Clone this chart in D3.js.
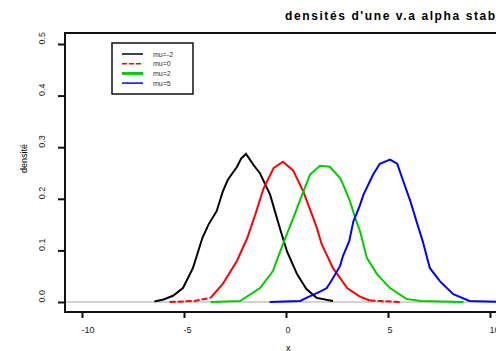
<!DOCTYPE html>
<html>
<head>
<meta charset="utf-8">
<script src="https://cdn.jsdelivr.net/npm/d3@7"></script>
<style>
  body { margin: 0; background: #fff; }
  svg { display: block; font-family: "Liberation Sans", Arial, sans-serif; }
</style>
</head>
<body>
<div id="chart"></div>
<script>
let width = 496,
    height = 351;

// values
const xTicks = [-10, -5, 0, 5, 10];
const yTicks = [0.0, 0.1, 0.2, 0.3, 0.4, 0.5];
const legendLabels = ["mu=-2", "mu=0", "mu=2", "mu=5"];

const blackX = [-6.45, -6.0, -5.54, -5.05, -4.56, -4.1, -3.8, -3.4, -3.1, -2.85, -2.4, -2.2, -1.96, -1.6, -1.27, -0.78, -0.3, 0.05, 0.54, 1.0, 1.5, 2.3];
const blackY = [0.001, 0.005, 0.012, 0.027, 0.066, 0.124, 0.15, 0.176, 0.214, 0.237, 0.262, 0.278, 0.287, 0.266, 0.249, 0.208, 0.143, 0.098, 0.054, 0.025, 0.008, 0.002];

const redX = [-5.7, -4.5, -3.7, -3.1, -2.4, -1.9, -1.5, -1.1, -0.6, -0.15, 0.35, 0.85, 1.27, 1.5, 1.75, 2.3, 3.0, 3.6, 4.1, 5.6];
const redY = [0.0, 0.002, 0.008, 0.035, 0.08, 0.124, 0.17, 0.22, 0.26, 0.272, 0.255, 0.214, 0.17, 0.145, 0.112, 0.066, 0.027, 0.011, 0.003, 0.0];

const greenX = [-3.7, -2.25, -1.27, -0.64, -0.15, 0.35, 0.85, 1.18, 1.67, 2.15, 2.65, 2.8, 3.14, 3.4, 3.63, 3.97, 4.46, 5.1, 5.9, 6.6, 8.7];
const greenY = [0.0, 0.002, 0.027, 0.06, 0.112, 0.162, 0.214, 0.247, 0.264, 0.262, 0.24, 0.228, 0.195, 0.162, 0.137, 0.085, 0.054, 0.027, 0.006, 0.002, 0.0];

const blueX = [-0.8, 0.7, 1.0, 1.67, 2.0, 2.3, 2.65, 2.8, 3.1, 3.3, 3.6, 3.8, 4.27, 4.6, 5.1, 5.45, 5.75, 6.1, 6.4, 6.7, 7.05, 7.55, 8.2, 9.0, 10.6];
const blueY = [0.0, 0.002, 0.008, 0.02, 0.027, 0.046, 0.07, 0.09, 0.118, 0.156, 0.185, 0.208, 0.247, 0.268, 0.276, 0.268, 0.234, 0.195, 0.156, 0.118, 0.066, 0.04, 0.015, 0.002, 0.0];

const series = [
  { xs: blackX, ys: blackY, color: "black" },
  { xs: redX, ys: redY, color: "red" },
  { xs: greenX, ys: greenY, color: "#00cc00" },
  { xs: blueX, ys: blueY, color: "blue" }
];

const svg = d3.select("#chart")
  .append("svg")
  .attr("width", width)
  .attr("height", height);

let x = d3.scaleLinear()
  .domain([-10, 10])
  .range([82, 490]);

let y = d3.scaleLinear()
  .domain([0, 0.5])
  .range([302, 44]);

const boxLeft = 65, boxTop = 33, boxBottom = 312, boxRight = 510;

// zero line in gray
svg.append("line")
  .attr("x1", boxLeft).attr("x2", boxRight)
  .attr("y1", y(0)).attr("y2", y(0))
  .attr("stroke", "#c4c4c4")
  .attr("stroke-width", 1.5);

let line = d3.line()
  .x(d => x(d[0]))
  .y(d => y(d[1]));

series.forEach((s, i) => {
  let pts = s.xs.map((v, j) => [v, s.ys[j]]);
  if (i == 1) {
    // red is dashed, only visible on the flat tails
    let inner = pts.filter(d => d[0] >= -3.7 && d[0] <= 4.1);
    svg.append("path").datum(pts.filter(d => d[0] <= -3.7))
      .attr("fill", "none").attr("stroke", s.color).attr("stroke-width", 2)
      .attr("stroke-dasharray", "6,2").attr("d", line);
    svg.append("path").datum(pts.filter(d => d[0] >= 4.1))
      .attr("fill", "none").attr("stroke", s.color).attr("stroke-width", 2)
      .attr("stroke-dasharray", "6,2").attr("d", line);
    svg.append("path").datum(inner)
      .attr("fill", "none").attr("stroke", s.color).attr("stroke-width", 2)
      .attr("d", line);
  } else {
    svg.append("path").datum(pts)
      .attr("fill", "none").attr("stroke", s.color).attr("stroke-width", 2)
      .attr("d", line);
  }
});

// box
svg.append("path")
  .attr("fill", "none")
  .attr("stroke", "#111")
  .attr("stroke-width", 2)
  .attr("d", `M${boxRight},${boxTop}H${boxLeft}V${boxBottom}H${boxRight}`);

// y axis
svg.append("g")
  .attr("transform", `translate(${boxLeft},0)`)
  .call(d3.axisLeft(y)
    .tickValues(yTicks)
    .tickSize(7)
    .tickSizeOuter(0)
    .tickFormat(d3.format(".1f")))
  .call(g => g.select(".domain").remove())
  .call(g => g.selectAll(".tick line").attr("stroke", "#111").attr("stroke-width", 2))
  .call(g => g.selectAll(".tick text")
    .attr("x", null).attr("dy", null)
    .attr("transform", "translate(-20,0) rotate(-90)")
    .attr("text-anchor", "start")
    .attr("font-size", 9)
    .attr("font-family", "Liberation Sans, Arial, sans-serif")
    .attr("fill", "#222"));

// x axis
svg.append("g")
  .attr("transform", `translate(0,${boxBottom})`)
  .call(d3.axisBottom(x)
    .tickValues(xTicks)
    .tickSize(6)
    .tickSizeOuter(0)
    .tickFormat(d => d))
  .call(g => g.select(".domain").remove())
  .call(g => g.selectAll(".tick line").attr("stroke", "#111").attr("stroke-width", 2))
  .call(g => g.selectAll(".tick text")
    .attr("y", 21).attr("dy", null)
    .attr("x", -1)
    .attr("text-anchor", "start")
    .attr("font-size", 9)
    .attr("font-family", "Liberation Sans, Arial, sans-serif")
    .attr("fill", "#222"));

// labels
svg.append("text")
  .attr("x", 285)
  .attr("y", 20)
  .attr("font-size", 12)
  .attr("font-weight", "bold")
  .attr("letter-spacing", 1.6)
  .attr("text-anchor", "start")
  .text("densités d'une v.a alpha stable");

svg.append("text")
  .attr("transform", "translate(27,173) rotate(-90)")
  .attr("font-size", 9)
  .text("densité");

svg.append("text")
  .attr("x", 286)
  .attr("y", 351)
  .attr("font-size", 9)
  .text("x");

// legend
const legend = svg.append("g");
legend.append("rect")
  .attr("x", 112).attr("y", 43)
  .attr("width", 81).attr("height", 51)
  .attr("fill", "white")
  .attr("stroke", "#111")
  .attr("stroke-width", 1.5);

const legendDash = [null, "5,2", null, null];
const legendWidth = [1.5, 1.5, 3, 1.5];
legendLabels.forEach((lab, i) => {
  let ly = 54 + i * 9.7;
  legend.append("line")
    .attr("x1", 122).attr("x2", 143)
    .attr("y1", ly).attr("y2", ly)
    .attr("stroke", series[i].color)
    .attr("stroke-width", legendWidth[i])
    .attr("stroke-dasharray", legendDash[i]);
  legend.append("text")
    .attr("x", 153)
    .attr("y", ly + 2.5)
    .attr("font-size", 7)
    .attr("fill", "#333")
    .text(lab);
});
</script>
</body>
</html>
